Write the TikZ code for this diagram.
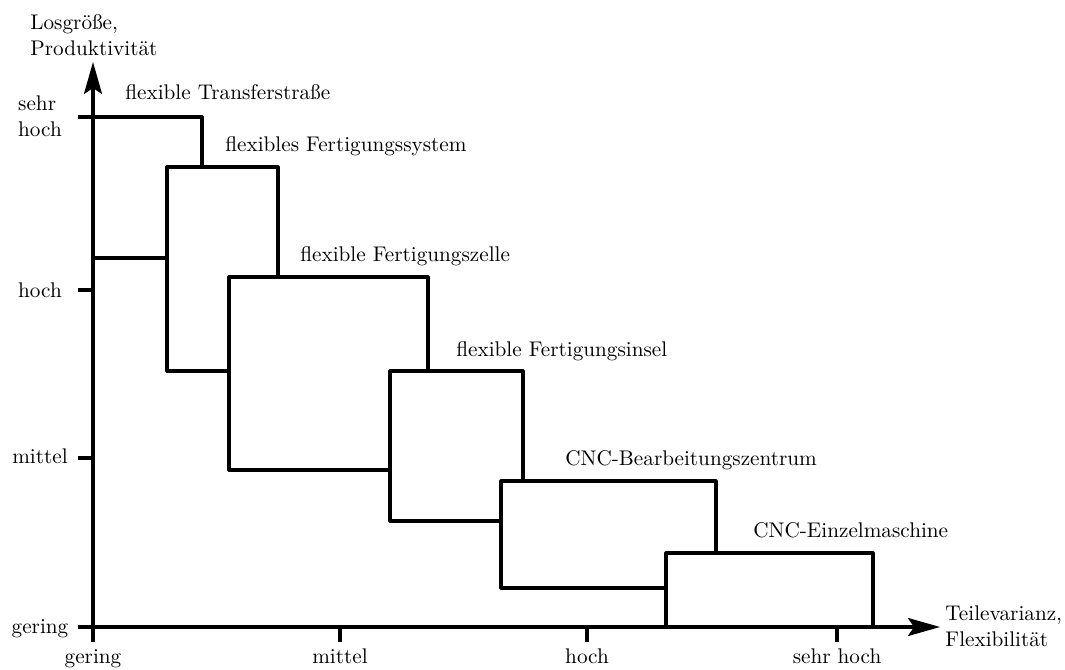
\documentclass[tikz,border=0pt]{standalone}
\usetikzlibrary{arrows.meta}
\begin{document}
\begin{tikzpicture}[x=0.5pt,y=-0.5pt,
  every node/.append style={font=\fontsize{10.6pt}{13pt}\selectfont},
  stage/.style={line width=1.6pt, line join=round, fill=white},
  axis/.style={line width=1.6pt, -{Stealth[length=16pt,width=9pt,inset=3pt]}},
  tickmark/.style={line width=1.6pt},
  stagelabel/.style={anchor=base west, inner sep=0pt},
  ticklabel/.style={anchor=base, inner sep=0pt},
  axislabel/.style={anchor=north west, align=left, inner sep=0pt}]
\useasboundingbox (0,0) rectangle (1065,669);

% production stages, each one drawn over the previous one
\draw[stage] (93,117)  rectangle (202,258);
\draw[stage] (167,167) rectangle (278,371);
\draw[stage] (229,277) rectangle (428,470);
\draw[stage] (390,371) rectangle (523,521);
\draw[stage] (501,481) rectangle (716,588);
\draw[stage] (666,553) rectangle (873,627);

% stage names
\node[stagelabel] (s1) at (125,99)  {flexible Transferstraße};
\node[stagelabel] (s2) at (225,151) {flexibles Fertigungssystem};
\node[stagelabel] (s3) at (300,261) {flexible Fertigungszelle};
\node[stagelabel] (s4) at (456,356) {flexible Fertigungsinsel};
\node[stagelabel] (s5) at (565,465) {CNC-Bearbeitungszentrum};
\node[stagelabel] (s6) at (753,537) {CNC-Einzelmaschine};

% axes
\coordinate (O) at (93,627);
\coordinate (xend) at (940,627);
\coordinate (yend) at (93,62);
\draw[axis] (O) -- (xend);
\draw[axis] (O) -- (yend);

% ticks on the vertical axis
\foreach \y/\n in {117/ysh,290/yh,458/ym,627/yg}
  \draw[tickmark] (78,\y) coordinate (\n) -- (93,\y);
% ticks on the horizontal axis
\foreach \x/\n in {93/xg,340/xm,587/xh,837/xsh}
  \draw[tickmark] (\x,627) -- (\x,642) coordinate (\n);

% tick labels
\node[align=left, inner sep=0pt] (lysh) at (40,116) {sehr\\hoch};
\node[ticklabel] (lyh) at (40,297) {hoch};
\node[ticklabel] (lym) at (40,463) {mittel};
\node[ticklabel] (lyg) at (40,633) {gering};
\node[ticklabel] (lxg) at (93,663) {gering};
\node[ticklabel] (lxm) at (340,663) {mittel};
\node[ticklabel] (lxh) at (587,663) {hoch};
\node[ticklabel] (lxsh) at (837,663) {sehr hoch};

% axis titles
\node[axislabel] (ytitle) at (30,14) {Losgröße,\\Produktivität};
\node[axislabel] (xtitle) at (945,605) {Teilevarianz,\\Flexibilität};
\end{tikzpicture}
\end{document}
